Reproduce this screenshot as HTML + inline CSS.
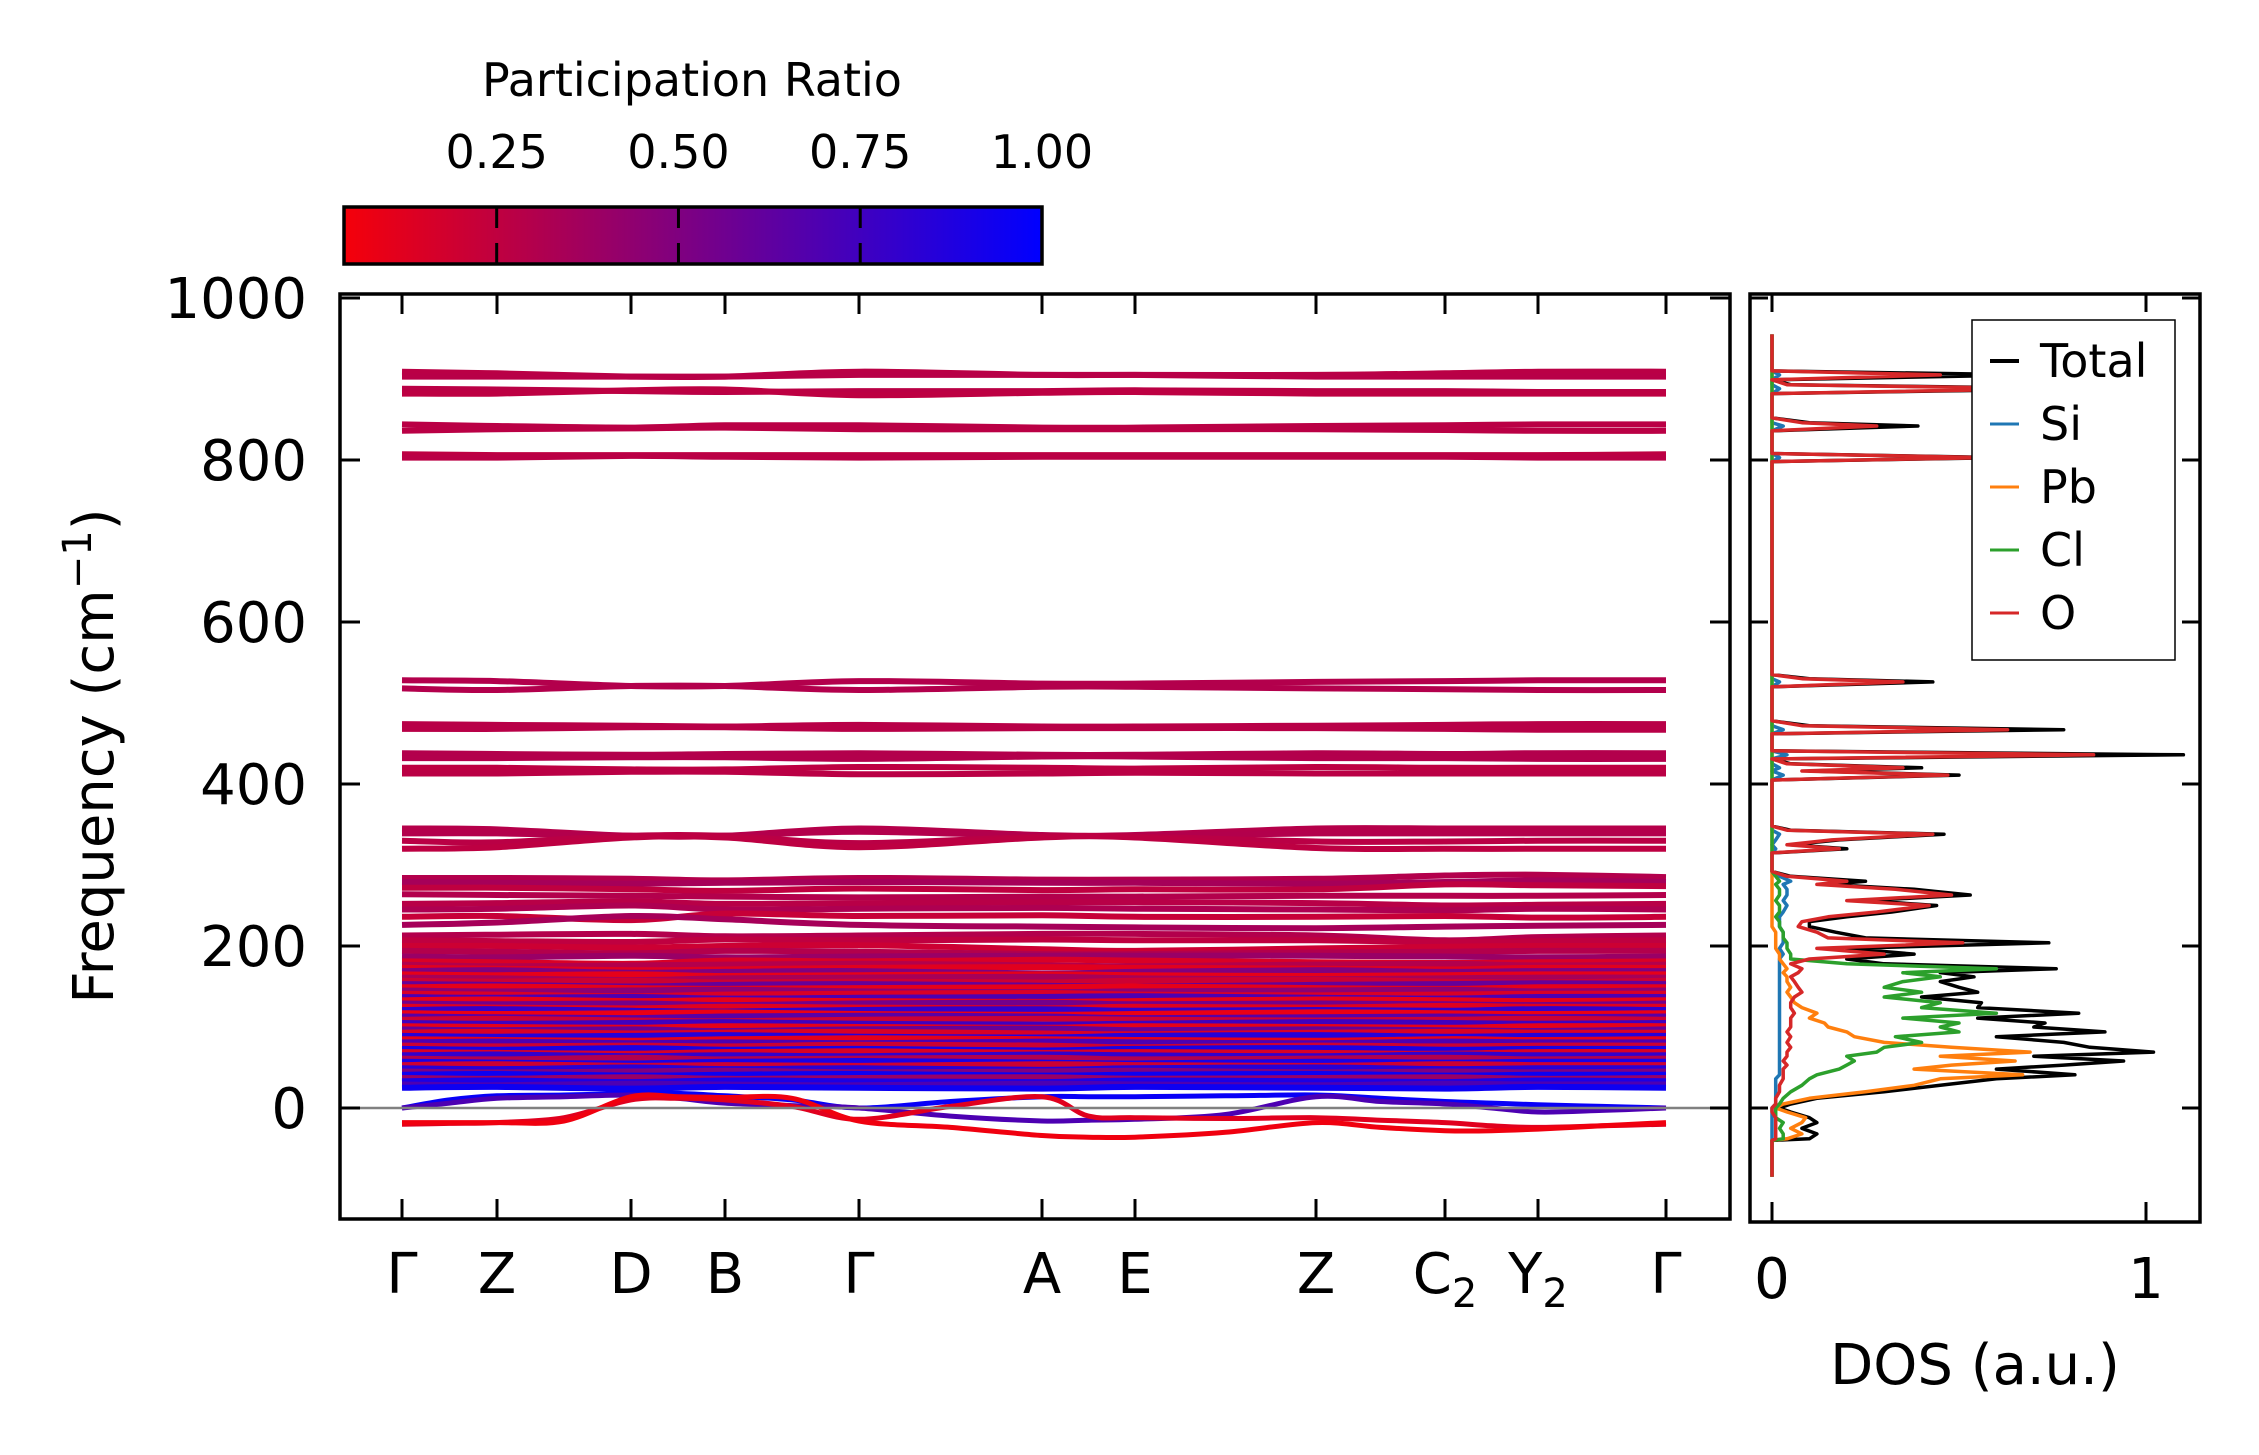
<!DOCTYPE html>
<html><head><meta charset="utf-8">
<style>
html,body{margin:0;padding:0;background:#fff;}
svg{display:block;font-family:"DejaVu Sans","Liberation Sans",sans-serif;}
</style></head>
<body>
<svg id="fig" width="2259" height="1455" viewBox="0 0 2259 1455" xmlns="http://www.w3.org/2000/svg">
  <defs>
    <linearGradient id="cbgrad" x1="0" x2="1" y1="0" y2="0">
      <stop offset="0" stop-color="#f5000a"/>
      <stop offset="1" stop-color="#0000ff"/>
    </linearGradient>
    <clipPath id="mainclip"><rect x="340" y="294" width="1390" height="925"/></clipPath>
    <clipPath id="dosclip"><rect x="1750" y="294" width="450" height="928"/></clipPath>
  </defs>
  <rect x="0" y="0" width="2259" height="1455" fill="#fff"/>

  <g>
    <text x="692" y="96" font-size="46" text-anchor="middle">Participation Ratio</text>
    <rect x="344" y="207" width="698" height="57" fill="url(#cbgrad)" stroke="#000" stroke-width="3.5"/>
    <g id="cbticks"></g>
  </g>

  <g id="bands" clip-path="url(#mainclip)"></g>
  <line x1="340" x2="1730" y1="1108" y2="1108" stroke="#808080" stroke-width="2.5"/>
  <g id="mainaxes"></g>

  <g id="dos" clip-path="url(#dosclip)"></g>
  <g id="dosaxes"></g>

  <text transform="translate(113,756) rotate(-90)" font-size="56" text-anchor="middle">Frequency (cm<tspan dy="-22" font-size="40">−1</tspan><tspan dy="22">)</tspan></text>
  <text x="1975" y="1384" font-size="56" text-anchor="middle">DOS (a.u.)</text>

  <g>
    <rect x="1972" y="320" width="203" height="340" fill="#fff" stroke="#000" stroke-width="1.5"/>
    <g id="legend"></g>
  </g>
</svg>
<script>
const kLabels = ["Γ","Z","D","B","Γ","A","E","Z","C","Y","Γ"];
const kSubs = ["","","","","","","","","2","2",""];
const kDist = [0, 0.95, 2.29, 3.23, 4.57, 6.40, 7.33, 9.14, 10.43, 11.36, 12.64];
const yTicks = [0, 200, 400, 600, 800, 1000];
const cbTicks = [0.25, 0.50, 0.75, 1.00];
const cbTickLabels = ["0.25", "0.50", "0.75", "1.00"];

const bandFreqs = [
[909,907,903,903,909,905,905,905,907,909,909],
[903,903,903,903,905,905,905,903,903,903,903],
[888,887,885,884,885,885,886,885,885,884,884],
[882,882,886,887,880,883,884,882,882,882,882],
[844,842,840,843,843,840,840,842,843,844,844],
[836,838,839,840,838,838,838,838,837,836,836],
[807,806,806,806,806,806,806,806,806,806,807],
[803,803,805,804,803,804,804,804,804,803,803],
[528,527,521,521,527,524,524,526,527,528,528],
[518,516,521,521,516,520,520,518,517,516,516],
[474,473,472,471,473,471,471,472,473,474,474],
[468,468,470,470,468,469,469,469,468,467,467],
[438,437,436,437,438,436,436,438,437,438,438],
[432,432,433,433,431,434,434,432,432,431,431],
[420,420,418,418,421,420,419,421,420,420,420],
[413,413,415,415,412,413,414,413,413,413,413],
[345,344,336,336,345,337,337,345,345,345,345],
[339,339,336,336,341,336,336,339,339,339,339],
[330,328,336,336,327,335,335,329,329,330,330],
[320,322,334,334,322,334,334,321,320,320,320],
[284,284,283,281,284,282,282,283,287,288,285],
[279,278,277,278,279,278,278,277,279,281,279],
[272,272,270,268,271,269,270,270,276,275,274],
[264,263,262,261,260,261,261,262,262,262,263],
[252,253,255,252,253,254,254,253,250,251,252],
[245,246,250,245,246,247,246,245,244,246,245],
[236,237,232,240,237,238,236,236,237,235,236],
[226,229,237,233,226,224,223,222,224,225,226],
[213,214,215,212,213,215,215,213,207,211,213],
[207,206,205,208,207,208,207,207,205,206,207],
[200,200,198,200,201,196,194,197,199,200,200],
[194,193,191,194,193,190,190,192,193,194,194],
[187,186,188,186,187,188,188,188,187,186,187],
[181,180,178,182,181,183,182,180,179,180,181],
[177,175,176,177,178,176,175,177,178,176,177],
[173,172,170,171,173,174,173,172,171,173,173],
[169,170,167,168,169,166,168,170,168,169,169],
[165,164,165,163,164,165,164,163,164,165,165],
[161,160,158,160,161,162,160,159,160,161,161],
[157,156,157,155,156,155,157,158,156,155,157],
[153,152,150,152,153,151,150,152,153,154,153],
[149,150,148,147,148,149,150,148,147,149,149],
[145,144,145,146,144,143,144,145,146,144,145],
[141,140,138,140,141,142,140,139,140,141,141],
[137,136,137,135,136,137,138,136,135,137,137],
[133,134,132,133,132,131,132,134,133,132,133],
[129,128,129,127,129,130,128,129,128,127,129],
[125,124,123,125,124,123,125,124,126,125,125],
[121,122,120,119,121,122,120,121,120,122,121],
[117,116,117,118,116,115,116,118,117,116,117],
[113,112,111,113,114,113,111,112,113,112,113],
[109,110,108,107,109,110,109,108,109,110,109],
[105,104,105,106,104,103,104,106,105,104,105],
[101,100,99,101,100,99,101,100,99,101,101],
[97,96,97,95,97,98,96,97,96,95,97],
[93,94,92,93,94,92,91,93,94,93,93],
[89,88,89,90,88,87,89,90,88,89,89],
[85,84,83,85,86,85,84,83,85,84,85],
[81,82,80,81,80,82,81,80,82,81,81],
[77,76,77,76,78,77,75,77,76,77,77],
[73,72,74,72,73,71,73,74,72,73,73],
[69,68,67,69,70,68,69,68,67,69,69],
[65,66,64,65,64,66,65,64,66,65,65],
[61,60,62,60,61,62,60,61,62,60,61],
[57,56,55,57,58,56,55,57,56,57,57],
[53,54,52,53,52,54,53,52,54,53,53],
[49,48,50,48,49,47,49,50,48,49,49],
[45,44,45,46,44,45,46,44,45,44,45],
[41,42,40,41,42,40,41,42,40,41,41],
[37,36,38,36,37,38,36,37,38,36,37],
[33,34,32,34,33,32,34,33,32,34,33],
[29,28,30,29,28,30,29,28,30,29,29],
[25,26,24,26,25,24,26,25,24,26,25]
];
const bandPR = [
.27,.28,.27,.26,.27,.27,.26,.27,.3,.3,.28,.28,.3,.3,.26,.27,.29,.3,.27,.26,
.3,.35,.25,.3,.28,.32,.22,.35,.3,.25,.2,.3,.4,
.15,.3,.12,.5,.1,.35,.2,.6,.1,.45,.15,.7,.1,.55,.12,.8,.08,.65,.2,.75,.1,.6,.15,.85,.1,.7,.2,.9,.15,.8,.3,.9,.2,.85,.5,.95,.4,.9,.7,.95
];

const lowBandFreqs = [
[0,10,15,16,18,18,15,10,0,8,14,14,14,15,16,12,8,6,4,2,0],
[0,6,12,14,16,12,6,3,0,-10,-16,-15,-14,-8,14,8,5,0,-5,-3,0],
[-20,-19,-18,-12,10,12,10,2,-14,2,14,-10,-12,-13,-12,-15,-18,-22,-24,-22,-20],
[-18,-18,-18,-16,14,14,13,12,-16,-24,-34,-36,-36,-30,-18,-24,-28,-28,-26,-22,-18]
];
const lowBandPR = [0.97, 0.7, 0.12, 0.06];

const dosFreq  = [-85,-40,-38,-32,-25,-18,-12,-5,0,5,12,20,28,36,41,48,53,58,64,69,75,81,88,94,100,105,111,117,124,130,137,143,149,156,162,167,172,178,184,190,197,204,210,217,224,230,236,242,250,256,263,270,276,280,286,292,315,320,325,331,338,343,348,405,411,416,420,425,431,436,441,462,467,472,478,520,526,530,535,798,803,808,836,842,846,852,882,888,893,899,905,910,955];
const dosTotal = [0,0,0.1,0.12,0.08,0.12,0.1,0.05,0.02,0.05,0.12,0.3,0.45,0.6,0.81,0.6,0.78,0.94,0.7,1.02,0.85,0.78,0.6,0.89,0.7,0.73,0.55,0.82,0.55,0.56,0.4,0.55,0.5,0.45,0.54,0.45,0.76,0.3,0.2,0.38,0.2,0.74,0.25,0.17,0.1,0.1,0.2,0.32,0.44,0.25,0.53,0.38,0.15,0.25,0.05,0,0,0.2,0.05,0.18,0.46,0.05,0,0,0.5,0.1,0.4,0.05,0,1.1,0,0,0.78,0.1,0,0,0.43,0.1,0,0,0.62,0,0,0.39,0.1,0,0,0.85,0.05,0,0.7,0,0];
const dosSi    = [0,0,0,0,0,0,0,0,0,0.01,0.01,0.01,0.01,0.01,0.02,0.02,0.02,0.02,0.02,0.02,0.02,0.02,0.02,0.02,0.02,0.02,0.02,0.02,0.02,0.02,0.02,0.02,0.02,0.02,0.02,0.02,0.02,0.02,0.02,0.03,0.02,0.03,0.03,0.03,0.02,0.02,0.02,0.03,0.04,0.03,0.04,0.04,0.03,0.05,0.02,0,0,0.01,0,0.01,0.02,0,0,0,0.03,0,0.02,0,0,0.04,0,0,0.03,0,0,0,0.02,0,0,0,0.02,0,0,0.03,0,0,0,0.02,0,0,0.02,0,0];
const dosPb    = [0,0,0.04,0.08,0.05,0.08,0.09,0.04,0.01,0.03,0.1,0.25,0.38,0.45,0.67,0.38,0.48,0.65,0.45,0.69,0.48,0.3,0.22,0.2,0.15,0.14,0.1,0.12,0.08,0.06,0.05,0.04,0.05,0.04,0.04,0.03,0.04,0.03,0.02,0.02,0.01,0.01,0.01,0.01,0,0,0,0,0,0,0,0,0,0,0,0,0,0,0,0,0,0,0,0,0,0,0,0,0,0,0,0,0,0,0,0,0,0,0,0,0,0,0,0,0,0,0,0,0,0,0,0,0];
const dosCl    = [0,0,0.03,0.03,0.02,0.03,0.01,0.01,0.01,0.02,0.03,0.05,0.08,0.1,0.12,0.18,0.2,0.22,0.2,0.28,0.3,0.4,0.33,0.5,0.45,0.5,0.35,0.6,0.4,0.45,0.3,0.4,0.3,0.35,0.45,0.35,0.6,0.2,0.05,0.05,0.04,0.04,0.03,0.03,0.02,0.02,0.01,0.02,0.02,0.01,0.02,0.02,0.01,0.02,0.01,0,0,0,0,0,0,0,0,0,0,0,0,0,0,0,0,0,0,0,0,0,0,0,0,0,0,0,0,0,0,0,0,0,0,0,0,0,0];
const dosO     = [0,0,0.01,0.01,0.01,0.01,0.01,0,0,0.01,0.01,0.02,0.02,0.03,0.03,0.03,0.04,0.03,0.04,0.04,0.05,0.04,0.05,0.04,0.05,0.05,0.05,0.06,0.05,0.05,0.06,0.08,0.07,0.06,0.05,0.07,0.08,0.05,0.1,0.3,0.12,0.51,0.15,0.12,0.07,0.08,0.15,0.28,0.42,0.2,0.48,0.33,0.12,0.2,0.04,0,0,0.18,0.04,0.16,0.43,0.04,0,0,0.47,0.08,0.35,0.04,0,0.86,0,0,0.63,0.08,0,0,0.35,0.08,0,0,0.58,0,0,0.28,0.08,0,0,0.75,0.04,0,0.45,0,0];
const legendLabels = ["Total","Si","Pb","Cl","O"];
const legendColors = ["#000000","#1f77b4","#ff7f0e","#2ca02c","#d62728"];

const NS = "http://www.w3.org/2000/svg";
const X0 = 402, X1 = 1666;
function xK(d){ return X0 + (d / kDist[kDist.length-1]) * (X1 - X0); }
function yF(f){ return 1108 - 0.81 * f; }
function xDos(v){ return 1772 + 374 * v; }
function xCb(p){ return 344 + (p - 0.04) / 0.96 * 698; }
function prColor(p){
  let t = (p - 0.04) / 0.96; t = Math.max(0, Math.min(1, t));
  return "rgb(" + Math.round(245*(1-t)) + ",0," + Math.round(10 + 245*t) + ")";
}
function mk(tag, attrs, parent){
  const e = document.createElementNS(NS, tag);
  for (const k in attrs) e.setAttribute(k, attrs[k]);
  parent.appendChild(e); return e;
}
function smoothPath(pts){
  let d = "M" + pts[0][0].toFixed(1) + "," + pts[0][1].toFixed(1);
  for (let i = 0; i < pts.length - 1; i++){
    const p0 = pts[Math.max(0,i-1)], p1 = pts[i], p2 = pts[i+1], p3 = pts[Math.min(pts.length-1,i+2)];
    const c1x = p1[0] + (p2[0]-p0[0])/6, c1y = p1[1] + (p2[1]-p0[1])/6;
    const c2x = p2[0] - (p3[0]-p1[0])/6, c2y = p2[1] - (p3[1]-p1[1])/6;
    d += " C" + c1x.toFixed(1)+","+c1y.toFixed(1)+" "+c2x.toFixed(1)+","+c2y.toFixed(1)+" "+p2[0].toFixed(1)+","+p2[1].toFixed(1);
  }
  return d;
}

const bandG = document.getElementById("bands");
bandFreqs.forEach((fr, i) => {
  const pts = fr.map((f, j) => [xK(kDist[j]), yF(f)]);
  const p = mk("path", {d: smoothPath(pts), fill: "none", stroke: prColor(bandPR[i]), "stroke-width": 6}, bandG);
  
  
});
const kFine = [];
for (let j = 0; j < kDist.length; j++){
  kFine.push(kDist[j]);
  if (j < kDist.length - 1) kFine.push((kDist[j] + kDist[j+1]) / 2);
}
lowBandFreqs.forEach((fr, i) => {
  const pts = fr.map((f, j) => [xK(kFine[j]), yF(f)]);
  const p = mk("path", {d: smoothPath(pts), fill: "none", stroke: prColor(lowBandPR[i]), "stroke-width": 5}, bandG);
  
  
});

const ax = document.getElementById("mainaxes");
const spine = mk("rect", {x: 340, y: 294, width: 1390, height: 925, fill: "none", stroke: "#000", "stroke-width": 3.5}, ax);


yTicks.forEach(v => {
  const y = yF(v);
  const t1 = mk("line", {x1: 340, x2: 360, y1: y, y2: y, stroke: "#000", "stroke-width": 3}, ax);
  
  
  const t2 = mk("line", {x1: 1710, x2: 1730, y1: y, y2: y, stroke: "#000", "stroke-width": 3}, ax);
  
  
  const lb = mk("text", {x: 307, y: y + 20, "font-size": 56, "text-anchor": "end"}, ax);
  lb.textContent = String(v);
  
  
});
kDist.forEach((d, j) => {
  const x = xK(d);
  const t1 = mk("line", {x1: x, x2: x, y1: 1219, y2: 1199, stroke: "#000", "stroke-width": 3}, ax);
  
  
  const t2 = mk("line", {x1: x, x2: x, y1: 294, y2: 314, stroke: "#000", "stroke-width": 3}, ax);
  
  
  const lb = mk("text", {x: x, y: 1293, "font-size": 56, "text-anchor": "middle"}, ax);
  lb.textContent = kLabels[j];
  if (kSubs[j]){
    const s = mk("tspan", {dy: 14, "font-size": 40}, lb);
    s.textContent = kSubs[j];
  }
  
  
});

const cbg = document.getElementById("cbticks");
cbTicks.forEach((p, i) => {
  const x = xCb(p);
  if (p < 1){
    const a = mk("line", {x1: x, x2: x, y1: 207, y2: 228, stroke: "#000", "stroke-width": 3}, cbg);
    
    
    const b = mk("line", {x1: x, x2: x, y1: 243, y2: 264, stroke: "#000", "stroke-width": 3}, cbg);
    
    
  }
  const lb = mk("text", {x: x, y: 168, "font-size": 46, "text-anchor": "middle"}, cbg);
  lb.textContent = cbTickLabels[i];
  
  
});

const dosG = document.getElementById("dos");
const dosSeries = [dosTotal, dosSi, dosPb, dosCl, dosO];
const dosNames = ["dos-total","dos-si","dos-pb","dos-cl","dos-o"];
dosSeries.forEach((s, i) => {
  const pts = s.map((v, j) => xDos(v).toFixed(1) + "," + yF(dosFreq[j]).toFixed(1)).join(" ");
  const pl = mk("polyline", {points: pts, fill: "none", stroke: legendColors[i], "stroke-width": 3.5, "stroke-linejoin": "round"}, dosG);
  
  
});
const dax = document.getElementById("dosaxes");
const dspine = mk("rect", {x: 1750, y: 294, width: 450, height: 928, fill: "none", stroke: "#000", "stroke-width": 3.5}, dax);


yTicks.forEach(v => {
  const y = yF(v);
  const t1 = mk("line", {x1: 1750, x2: 1768, y1: y, y2: y, stroke: "#000", "stroke-width": 3}, dax);
  
  
  const t2 = mk("line", {x1: 2182, x2: 2200, y1: y, y2: y, stroke: "#000", "stroke-width": 3}, dax);
  
  
});
[0, 1].forEach(v => {
  const x = xDos(v);
  const t1 = mk("line", {x1: x, x2: x, y1: 1222, y2: 1202, stroke: "#000", "stroke-width": 3}, dax);
  
  
  const t2 = mk("line", {x1: x, x2: x, y1: 294, y2: 312, stroke: "#000", "stroke-width": 3}, dax);
  
  
  const lb = mk("text", {x: x, y: 1298, "font-size": 56, "text-anchor": "middle"}, dax);
  lb.textContent = String(v);
  
  
});

const lg = document.getElementById("legend");
legendLabels.forEach((name, i) => {
  const y = 361 + i * 63;
  const ln = mk("line", {x1: 1990, x2: 2019, y1: y, y2: y, stroke: legendColors[i], "stroke-width": i === 0 ? 4 : 3}, lg);
  
  
  const t = mk("text", {x: 2040, y: y + 16, "font-size": 46}, lg);
  t.textContent = name;
  
  
});
</script>
</body></html>
